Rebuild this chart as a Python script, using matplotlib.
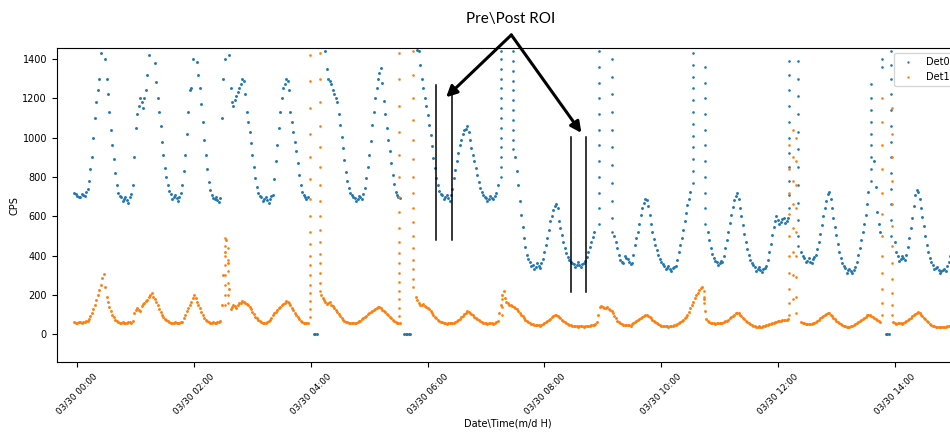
import numpy as np
import pandas as pd
import matplotlib
matplotlib.use("Agg")
import matplotlib.pyplot as plt
import matplotlib.dates as mdates
from matplotlib.ticker import MultipleLocator

nan = np.nan

# Count-rate log: readings every 3 minutes from 03/29 23:57,
# plus the interleaved readings taken half a step later
start = "2021-03-29 23:57"
start_mid = "2021-03-29 23:58:30"
step = "3min"
day = "2021-03-30"

det0_cps = [
    720, 705, 700, 710, 725, 780, 900, 1100, 1240, 1430,
    1560, 1300, 1130, 960, 820, 720, 700, 690, 685, 700,
    760, 1050, 1160, 1180, 1200, 1320, 1520, 1470, 1285, 1130,
    980, 845, 760, 715, 700, 695, 700, 760, 910, 1130,
    1250, 1520, 1385, 1250, 1080, 910, 775, 710, 690, 685,
    695, 1300, 1480, 1420, 1180, 1190, 1230, 1270, 1290, 1130,
    1030, 910, 795, 720, 700, 690, 685, 690, 710, 880,
    1050, 1200, 1270, 1290, 1130, 1030, 930, 810, 725, 700,
    700, nan, 0, 0, nan, nan, 1440, 1300, 1270, 1220,
    1180, 1065, 945, 825, 745, 710, 695, 690, 700, 715,
    795, 910, 1065, 1200, 1300, 1355, 1185, 1050, 930, 810,
    725, 700, nan, 0, 0, 0, nan, nan, 1440, 1300,
    1200, 1115, 1015, 895, 795, 730, 710, 700, 695, 710,
    795, 880, 960, 1020, 1045, 1030, 945, 880, 810, 745,
    710, 695, 690, 695, 705, 760, nan, 1550, 1600, 1580,
    nan, 900, 760, 605, 490, 405, 370, 350, 340, 345,
    360, 420, 490, 575, 630, 660, 575, 505, 440, 395,
    370, 355, 350, 350, 355, 375, 420, 470, 520, nan,
    1500, 1550, 1550, 1500, nan, 500, 440, 380, 360, 390,
    370, 360, 455, 520, 605, 670, 685, 605, 520, 455,
    405, 370, 345, 335, 330, 335, 345, 420, 490, 575,
    655, 725, nan, 1550, 1600, 1550, nan, 520, 440, 390,
    365, 360, 370, 440, 520, 605, 685, 720, 640, 555,
    470, 405, 360, 340, 330, 325, 330, 345, 420, 505,
    575, 580, 570, 590, 575, nan, 1550, 1550, nan, 420,
    390, 375, 370, 385, 405, 470, 555, 640, 715, 690,
    590, 505, 420, 360, 335, 325, 320, 325, 370, 440,
    520, 605, 725, nan, 880, 620, 520, nan, 0, 0,
    nan, 470, 400, 385, 390, 405, 490, 590, 710, 725,
    640, 548, 455, 390, 350, 335, 325, 320, 330, 345,
    400, 480, 560, 640, 700, 720,
]

det0_cps_mid = [
    712, 698, 715, 705, 740, 840, 1000, 1180, 1300, 1500,
    1400, 1220, 1040, 890, 760, 705, 680, 700, 670, 715,
    900, 1120, 1200, 1150, 1240, 1420, 1600, 1380, 1200, 1060,
    910, 800, 730, 690, 710, 680, 720, 830, 1020, 1240,
    1400, 1500, 1320, 1170, 990, 840, 735, 695, 700, 675,
    1100, 1400, 1500, 1250, 1160, 1210, 1250, 1300, 1220, 1080,
    970, 850, 750, 705, 680, 700, 670, 705, 790, 960,
    1130, 1250, 1300, 1240, 1080, 980, 870, 760, 710, 690,
    nan, nan, 0, nan, nan, nan, 1350, 1290, 1240, 1200,
    1120, 1005, 885, 780, 720, 700, 680, 705, 690, 745,
    850, 985, 1130, 1250, 1330, 1280, 1120, 990, 870, 765,
    710, 695, nan, 0, 0, nan, nan, 1445, 1370, 1250,
    1160, 1065, 955, 845, 760, 715, 690, 710, 680, 740,
    835, 920, 990, 1040, 1060, 990, 910, 845, 775, 725,
    700, 680, 705, 690, 720, nan, nan, 1600, 1600, nan,
    nan, 830, 680, 545, 445, 385, 345, 330, 360, 335,
    385, 455, 530, 600, 650, 640, 540, 470, 415, 380,
    360, 340, 365, 340, 360, 395, 445, 495, nan, nan,
    1550, 1550, 1550, nan, nan, 470, 405, 370, 400, 385,
    355, 405, 490, 560, 640, 690, 650, 560, 485, 430,
    385, 355, 330, 345, 320, 340, 380, 455, 530, 615,
    690, nan, nan, 1600, 1600, nan, nan, 480, 410, 375,
    350, 375, 400, 480, 565, 645, 705, 690, 600, 510,
    435, 380, 350, 320, 340, 315, 335, 380, 460, 545,
    600, 560, 585, 565, 590, nan, 1600, nan, nan, 400,
    365, 390, 360, 395, 435, 510, 600, 680, 725, 640,
    545, 460, 390, 345, 310, 330, 310, 340, 405, 480,
    560, 660, nan, nan, 750, 560, nan, nan, 0, nan,
    nan, 420, 375, 400, 380, 445, 540, 650, 735, 690,
    595, 500, 420, 365, 330, 340, 310, 325, 320, 365,
    440, 520, 600, 670, 715,
]

det1_cps = [
    60, 58, 60, 62, 65, 80, 110, 150, 200, 250,
    305, 190, 140, 100, 75, 62, 58, 57, 58, 60,
    70, 125, 125, 145, 160, 175, 200, 190, 165, 130,
    100, 80, 65, 58, 57, 58, 58, 64, 100, 132,
    166, 200, 166, 132, 98, 73, 62, 58, 58, 60,
    65, 300, 480, 230, 140, 145, 150, 160, 165, 155,
    140, 115, 90, 75, 62, 58, 62, 73, 98, 115,
    132, 149, 161, 166, 149, 124, 98, 76, 64, 56,
    58, nan, nan, nan, nan, 185, 165, 160, 150, 135,
    115, 95, 75, 62, 58, 57, 57, 60, 70, 82,
    95, 108, 120, 130, 138, 132, 120, 105, 90, 75,
    62, 57, nan, nan, nan, nan, nan, 190, 160, 150,
    145, 135, 120, 100, 82, 68, 60, 57, 56, 56,
    57, 65, 80, 95, 110, 115, 105, 90, 78, 65,
    58, 55, 55, 56, 58, 70, 150, 220, 165, 150,
    145, 135, 120, 100, 82, 68, 58, 50, 47, 46,
    47, 55, 65, 80, 92, 98, 88, 75, 62, 52,
    46, 42, 40, 40, 40, 42, 43, 45, 48, 60,
    140, 140, 135, 128, 120, 95, 70, 55, 47, 47,
    46, 50, 60, 72, 85, 95, 98, 88, 75, 62,
    50, 44, 42, 40, 41, 43, 47, 57, 65, 81,
    98, 132, 166, 200, 225, 240, 120, 65, 58, 55,
    55, 55, 58, 65, 75, 88, 100, 110, 100, 85,
    70, 55, 45, 40, 38, 38, 40, 45, 50, 55,
    60, 65, 70, 72, 75, nan, nan, nan, nan, 60,
    55, 52, 52, 55, 62, 75, 88, 100, 108, 100,
    85, 70, 55, 45, 40, 38, 40, 45, 55, 65,
    78, 90, 100, 95, 85, 72, 64, nan, nan, nan,
    nan, 58, 56, 55, 58, 65, 78, 92, 105, 112,
    100, 85, 68, 52, 42, 38, 36, 37, 38, 40,
    42, 45, 48, 52, 55, 58,
]

det1_cps_mid = [
    57, 62, 56, 60, 70, 95, 130, 175, 225, 285,
    240, 165, 118, 88, 66, 56, 60, 55, 62, 58,
    110, 135, 118, 155, 168, 190, 210, 178, 148, 115,
    90, 72, 60, 56, 60, 55, 60, 82, 116, 150,
    185, 185, 150, 115, 85, 66, 58, 62, 56, 63,
    150, 420, 360, 130, 150, 135, 158, 170, 160, 148,
    128, 102, 82, 66, 57, 58, 67, 85, 108, 125,
    140, 155, 168, 158, 136, 110, 86, 70, 58, 55,
    nan, nan, nan, nan, 200, 172, 155, 165, 142, 125,
    105, 85, 68, 60, 55, 59, 56, 65, 76, 88,
    102, 114, 126, 136, 140, 126, 112, 98, 82, 68,
    58, 55, nan, nan, nan, nan, nan, 175, 150, 155,
    140, 128, 110, 90, 75, 63, 57, 54, 58, 55,
    60, 72, 88, 103, 116, 110, 98, 84, 72, 61,
    56, 53, 57, 54, 62, 110, 200, 185, 160, 150,
    140, 128, 110, 92, 75, 62, 53, 46, 49, 44,
    50, 60, 72, 86, 96, 94, 82, 68, 57, 49,
    43, 41, 38, 42, 39, 43, 44, 47, 52, 100,
    145, 132, 138, 124, 108, 82, 62, 50, 45, 48,
    44, 55, 66, 78, 90, 100, 94, 82, 68, 56,
    46, 40, 43, 39, 44, 45, 52, 60, 72, 90,
    115, 150, 183, 212, 235, 180, 80, 60, 57, 52,
    57, 55, 60, 70, 82, 94, 106, 106, 92, 78,
    62, 50, 42, 36, 40, 37, 42, 47, 53, 57,
    63, 67, 71, 74, 78, nan, nan, nan, nan, 58,
    53, 50, 54, 58, 68, 82, 94, 105, 106, 92,
    78, 62, 50, 42, 36, 39, 42, 50, 60, 72,
    84, 96, 98, 90, 78, 68, nan, nan, nan, nan,
    60, 54, 57, 53, 60, 71, 85, 98, 110, 108,
    92, 76, 60, 47, 40, 35, 38, 35, 39, 41,
    44, 46, 50, 53, 56,
]

# Extra readings logged while a detector ramps through a reset
det0_ramp_times = ["07:15", "07:28", "08:56", "09:09", "10:33", "10:45",
                   "12:11", "12:21", "13:36", "13:47", "13:56"]
det0_ramp_cps = [
    [800, 850, 900, 950, 1000, 1050, 1100, 1150, 1200, 1250, 1300, 1350, 1400, 1440],
    [1440, 1390, 1340, 1290, 1240, 1190, 1140, 1090, 1040, 990, 940],
    [560, 640, 720, 800, 880, 960, 1040, 1120, 1200, 1280, 1360, 1440],
    [1400, 1310, 1220, 1130, 1040, 950, 860, 770, 680, 590, 520],
    [770, 830, 890, 950, 1010, 1070, 1130, 1190, 1250, 1310, 1370, 1430],
    [1360, 1280, 1200, 1120, 1040, 960, 880, 800, 720, 640, 560],
    [640, 710, 780, 850, 920, 1000, 1080, 1160, 1240, 1320, 1390],
    [1390, 1300, 1210, 1120, 1030, 940, 850, 760, 670, 580, 500, 450],
    [780, 840, 900, 960, 1020, 1080, 1140, 1200, 1270],
    [1400, 1360],
    [1440, 1370, 1300, 1220, 1140, 1060, 980, 900, 820, 740, 660, 580, 500],
]

det1_ramp_times = ["02:32", "02:35", "03:59", "04:09", "05:31", "05:45",
                   "07:16", "10:44", "12:11", "12:15", "12:19", "13:47", "13:57"]
det1_ramp_cps = [
    [150, 200, 250, 300, 350, 400, 450, 490],
    [440, 380, 320, 260, 200, 160],
    [90, 130, 170, 210, 250, 300, 350, 400, 460, 520, 600, 690, 790, 900, 1020, 1150, 1290, 1420],
    [1430, 1300, 1180, 1060, 950, 850, 760, 680, 600, 530, 470, 410, 360, 310, 260, 220],
    [95, 135, 180, 220, 265, 310, 360, 415, 470, 540, 620, 700, 800, 910, 1030, 1160, 1300, 1430],
    [1440, 1320, 1200, 1090, 990, 890, 800, 720, 640, 570, 500, 440, 380, 330, 280, 240],
    [100, 140, 180],
    [220, 190, 160],
    [100, 160, 230, 310, 400, 500, 610, 720, 840, 960],
    [180, 300, 420, 540, 660, 780, 900, 1040],
    [1000, 880, 760, 640, 520, 400, 290, 190, 110],
    [100, 160, 230, 310, 400, 500, 610, 720, 840, 960, 1080, 1200],
    [1150, 1020, 900, 780, 660, 550, 450, 360, 280, 210, 150, 100],
]

# Pre/post regions of interest (time, lower CPS, upper CPS)
roi_starts = ["06:09", "06:25", "08:27", "08:43"]
roi_low = [480, 480, 217, 217]
roi_high = [1268, 1268, 1005, 1005]

callout_text = "Pre\\Post ROI"
callout_origin = ("07:26", 1522)
callout_tips = [("06:19", 1205), ("08:38", 1024)]

C0 = "#1f77b4"
C1 = "#ff7f0e"


def clock(hm):
    return pd.Timestamp(f"{day} {hm}")


def ramp_points(times, groups):
    xs, ys = [], []
    for hm, vals in zip(times, groups):
        xs.extend([clock(hm)] * len(vals))
        ys.extend(vals)
    return xs, ys


fig = plt.figure(figsize=(9.5, 4.32), dpi=100)
ax = fig.add_axes([0.0597, 0.162, 0.9487, 0.7262])

mk = dict(linestyle="none", marker="o", ms=2.1, mew=0)
for vals, t0, col, lab in [(det0_cps, start, C0, "Det0"),
                           (det0_cps_mid, start_mid, C0, None),
                           (det1_cps, start, C1, "Det1"),
                           (det1_cps_mid, start_mid, C1, None)]:
    ts = pd.date_range(t0, periods=len(vals), freq=step)
    ax.plot(ts, vals, color=col, label=lab, **mk)

rx, ry = ramp_points(det0_ramp_times, det0_ramp_cps)
ax.plot(rx, ry, color=C0, **dict(mk, ms=1.9))
rx, ry = ramp_points(det1_ramp_times, det1_ramp_cps)
ax.plot(rx, ry, color=C1, **dict(mk, ms=1.9))

ax.set_xlim(pd.Timestamp("2021-03-29 23:38:50"), pd.Timestamp("2021-03-30 15:05"))
ax.set_ylim(-141, 1454)
ax.yaxis.set_major_locator(MultipleLocator(200))
ax.xaxis.set_major_locator(mdates.HourLocator(byhour=range(0, 24, 2)))
ax.xaxis.set_major_formatter(mdates.DateFormatter("%m/%d %H:%M"))
ax.tick_params(axis="y", labelsize=7)
ax.tick_params(axis="x", labelsize=6.3)
for lab in ax.get_xticklabels():
    lab.set_rotation(45)
    lab.set_ha("center")

ax.set_xlabel("Date\\Time(m/d H)", fontsize=7, labelpad=2)
ax.set_ylabel("CPS", fontsize=7, labelpad=2)

handles, labels = ax.get_legend_handles_labels()
ax.legend(handles, labels, loc="upper right", fontsize=7, markerscale=0.8)

# ROI boundary markers
for hm, lo, hi in zip(roi_starts, roi_low, roi_high):
    ax.plot([clock(hm), clock(hm)], [lo, hi], color="black", lw=1.1)

ox = clock(callout_origin[0])
for hm, v in callout_tips:
    ax.annotate("", xy=(clock(hm), v), xytext=(ox, callout_origin[1]),
                annotation_clip=False,
                arrowprops=dict(arrowstyle="-|>", lw=2.2, color="black",
                                mutation_scale=16, shrinkA=0, shrinkB=0))
ax.text(clock("07:25"), 1603, callout_text, ha="center", va="center",
        fontsize=11, family="Lato", clip_on=False)

fig.savefig("out.png", dpi=100)
